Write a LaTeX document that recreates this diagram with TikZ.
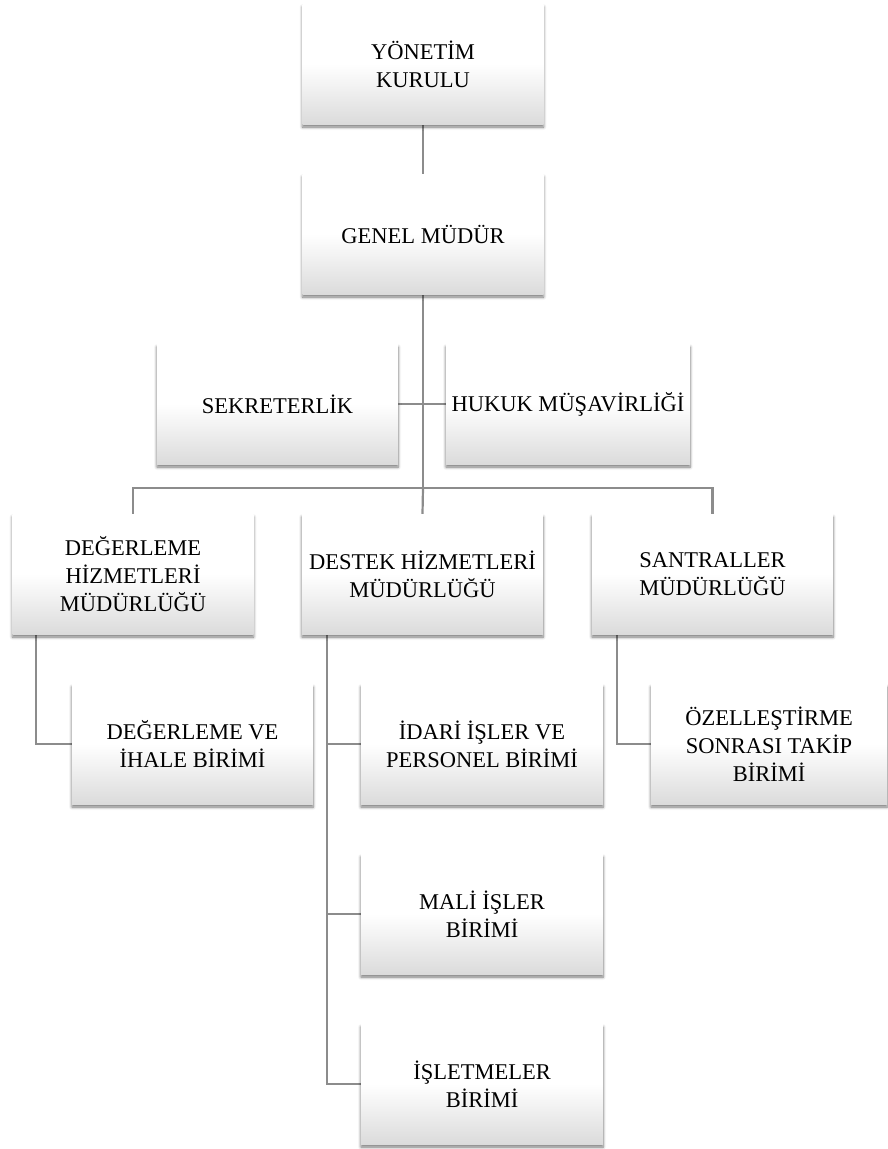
\documentclass[tikz,border=0pt]{standalone}
\usepackage{fontspec}
\setmainfont{Liberation Serif}
\usetikzlibrary{shadows,shadows.blur,backgrounds,calc}
\tikzset{
  box/.style={minimum width=241pt, minimum height=120pt, inner sep=1pt, align=center,
    font=\fontsize{22.5}{28}\selectfont,
    top color=white, bottom color=black!14, middle color=white,
    blur shadow={shadow xshift=0pt, shadow yshift=-3pt, shadow blur radius=3pt, shadow blur steps=6, shadow opacity=55}},
  link/.style={draw=black!45, line width=2.2pt}
}
\begin{document}
\begin{tikzpicture}[x=1pt,y=-1pt]
\useasboundingbox (0,0) rectangle (887,1149);
\node[box] (yk) at (423,64) {YÖNETİM\\KURULU};
\node[box] (gm) at (423,234) {GENEL MÜDÜR};
\node[box] (sek) at (277.5,404) {SEKRETERLİK};
\node[box, minimum width=244pt] (huk) at (568,404) {HUKUK MÜŞAVİRLİĞİ};
\node[box] (deg) at (133,574) {DEĞERLEME\\HİZMETLERİ\\MÜDÜRLÜĞÜ};
\node[box] (des) at (422.5,574) {DESTEK HİZMETLERİ\\MÜDÜRLÜĞÜ};
\node[box] (san) at (712.5,574) {SANTRALLER\\MÜDÜRLÜĞÜ};
\node[box] (degi) at (192.5,744) {DEĞERLEME VE\\İHALE BİRİMİ};
\node[box, minimum width=242pt] (ida) at (482,744) {İDARİ İŞLER VE\\PERSONEL BİRİMİ};
\node[box, minimum width=242pt] (mali) at (482,914) {MALİ İŞLER\\BİRİMİ};
\node[box, minimum width=242pt] (isl) at (482,1084) {İŞLETMELER\\BİRİMİ};
\node[box, minimum width=236pt] (oz) at (769,744) {ÖZELLEŞTİRME\\SONRASI TAKİP\\BİRİMİ};
\coordinate (bus) at (423,488);
\coordinate (degb) at ($(deg.south west)+(24,0)$);
\coordinate (desb) at ($(des.south west)+(25,0)$);
\coordinate (sanb) at ($(san.south west)+(25,0)$);
\begin{scope}[on background layer]
\draw[link] (yk.south) -- (gm.north);
\draw[link] (gm.south) -- (bus);
\draw[link] (sek.east) -- (huk.west);
\draw[link] (deg.north) |- (bus) -| (san.north);
\draw[link] (bus) -- (des.north);
\draw[link] (degb) |- (degi.west);
\draw[link] (desb) |- (isl.west);
\draw[link] (desb |- ida.west) -- (ida.west);
\draw[link] (desb |- mali.west) -- (mali.west);
\draw[link] (sanb) |- (oz.west);
\end{scope}
\end{tikzpicture}
\end{document}
